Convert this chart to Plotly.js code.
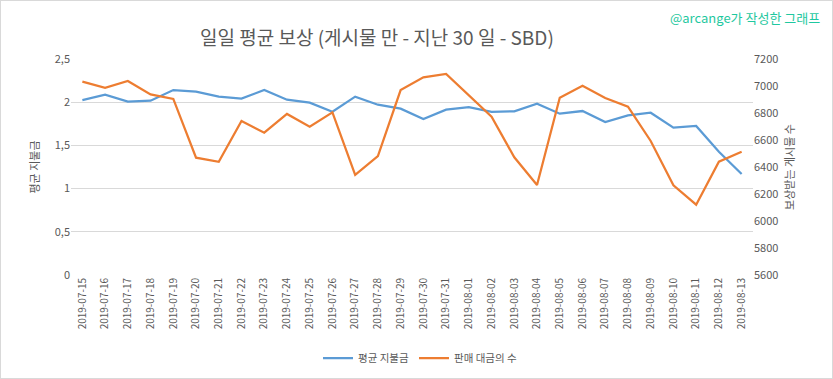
<!DOCTYPE html>
<html>
<head>
<meta charset="utf-8">
<script src="https://cdn.plot.ly/plotly-3.0.1.min.js"></script>
<style>
html,body{margin:0;padding:0;background:#fff;}
#wrap{position:relative;width:833px;height:379px;}
#chart{width:833px;height:379px;}
#frame{position:absolute;left:0;top:0;width:833px;height:379px;box-sizing:border-box;border:1px solid #d9d9d9;pointer-events:none;}
</style>
</head>
<body>
<div id="wrap"><div id="chart"></div><div id="frame"></div></div>
<script>
const dates = ["2019-07-15","2019-07-16","2019-07-17","2019-07-18","2019-07-19","2019-07-20","2019-07-21","2019-07-22","2019-07-23","2019-07-24","2019-07-25","2019-07-26","2019-07-27","2019-07-28","2019-07-29","2019-07-30","2019-07-31","2019-08-01","2019-08-02","2019-08-03","2019-08-04","2019-08-05","2019-08-06","2019-08-07","2019-08-08","2019-08-09","2019-08-10","2019-08-11","2019-08-12","2019-08-13"];
const avgPayout = [2.025,2.087,2.006,2.017,2.141,2.122,2.064,2.041,2.141,2.029,1.994,1.890,2.064,1.971,1.925,1.806,1.913,1.944,1.887,1.895,1.983,1.867,1.898,1.771,1.848,1.878,1.705,1.725,1.427,1.169];
const paidPosts = [7032,6987,7037,6938,6904,6469,6439,6741,6654,6793,6699,6805,6341,6481,6970,7064,7089,6928,6773,6472,6267,6913,7002,6911,6847,6593,6264,6121,6439,6513];
const seriesNames = ["평균 지불금","판매 대금의 수"];
const titleText = "일일 평균 보상 (게시물 만 - 지난 30 일 - SBD)";
const leftTitle = "평균 지불금";
const rightTitle = "보상받는 게시물 수";
const watermark = "@arcange가 작성한 그래프";

const FONT = "'Noto Sans CJK KR', 'Noto Sans', sans-serif";
const GRAY = "#595959";

const traces = [
  {x: dates, y: avgPayout, name: seriesNames[0], type: "scatter", mode: "lines",
   line: {color: "#5B9BD5", width: 2.25}, yaxis: "y"},
  {x: dates, y: paidPosts, name: seriesNames[1], type: "scatter", mode: "lines",
   line: {color: "#ED7D31", width: 2.25}, yaxis: "y2"}
];

const layout = {
  width: 833, height: 379,
  margin: {l: 71, r: 80, t: 59, b: 104, autoexpand: false},
  paper_bgcolor: "#fff", plot_bgcolor: "#fff",
  separators: ", ",
  font: {family: FONT, color: GRAY, size: 11},
  showlegend: true,
  legend: {orientation: "h", x: (420-71)/682, xanchor: "center", y: (275-358)/216, yanchor: "middle",
           font: {size: 10.5, color: GRAY}, itemwidth: 30, tracegroupgap: 0},
  xaxis: {type: "category", range: [-0.5, 29.5], tickangle: -90, showgrid: false,
          showline: false, zeroline: false, ticks: "", tickfont: {size: 10, color: GRAY}, fixedrange: true},
  yaxis: {range: [0, 2.5], dtick: 0.5, tick0: 0, gridcolor: "#d9d9d9", gridwidth: 1,
          zeroline: false, showline: false, ticks: "", tickfont: {size: 11, color: GRAY},
          tickformat: ".1~f",
          title: {text: leftTitle, font: {size: 11, color: GRAY}, standoff: 12}},
  yaxis2: {range: [5600, 7200], dtick: 200, tick0: 5600, overlaying: "y", side: "right",
           showgrid: false, zeroline: false, showline: false, ticks: "",
           tickfont: {size: 11, color: GRAY},
           title: {text: rightTitle, font: {size: 11, color: GRAY}, standoff: 8}},
  annotations: [
    {text: titleText, xref: "paper", yref: "paper", x: (377-71)/682, y: (275-36)/216,
     xanchor: "center", yanchor: "middle", showarrow: false,
     font: {size: 19, color: GRAY, family: FONT}},
    {text: watermark, xref: "paper", yref: "paper", x: (822-71)/682, y: (275-17)/216,
     xanchor: "right", yanchor: "middle", showarrow: false,
     font: {size: 13, color: "#1FC8A0", family: FONT}}
  ]
};

Plotly.newPlot("chart", traces, layout, {displayModeBar: false, staticPlot: true});
</script>
</body>
</html>
